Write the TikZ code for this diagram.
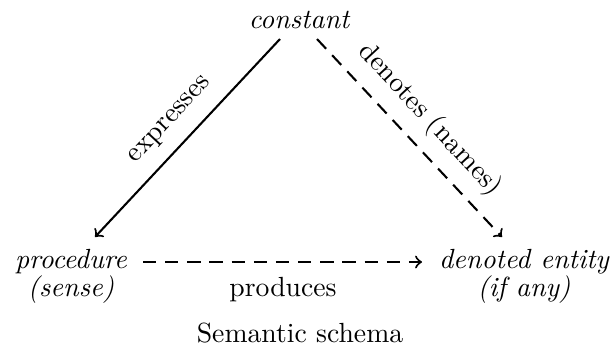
\documentclass[tikz,border=0pt]{standalone}
\usetikzlibrary{calc}
\begin{document}
\begin{tikzpicture}[x=0.361pt,y=-0.361pt,
  term/.style={font=\itshape,inner sep=0pt,align=center},
  plain/.style={inner sep=0pt},
  conn/.style={line width=0.75pt,->},
  dconn/.style={line width=0.75pt,->,dash pattern=on 4.8pt off 3.2pt}]
\useasboundingbox (0,0) rectangle (614,350);
\node[term,anchor=base] (c) at (299,28) {constant};
\node[term,anchor=base] (p) at (71,296) {procedure\\[-2pt](sense)};
\node[term,anchor=base] (d) at (524,296) {denoted entity\\[-2pt](if any)};
\draw[conn] ($(c.base)+(-19,11)$) -- ($(p.base)+(24,-59)$);
\draw[dconn] ($(c.base)+(18,11)$) -- ($(d.base)+(-22,-59)$);
\draw[dconn] ($(p.base)+(72,-34)$) -- ($(d.base)+(-102,-34)$);
\node[plain,rotate=47] (ex) at (171,121) {expresses};
\node[plain,rotate=-47] (dn) at (430,120) {denotes (names)};
\node[plain,anchor=base] (pr) at (283,296) {produces};
\node[plain,anchor=base] (ss) at (300,342) {Semantic schema};
\end{tikzpicture}
\end{document}
